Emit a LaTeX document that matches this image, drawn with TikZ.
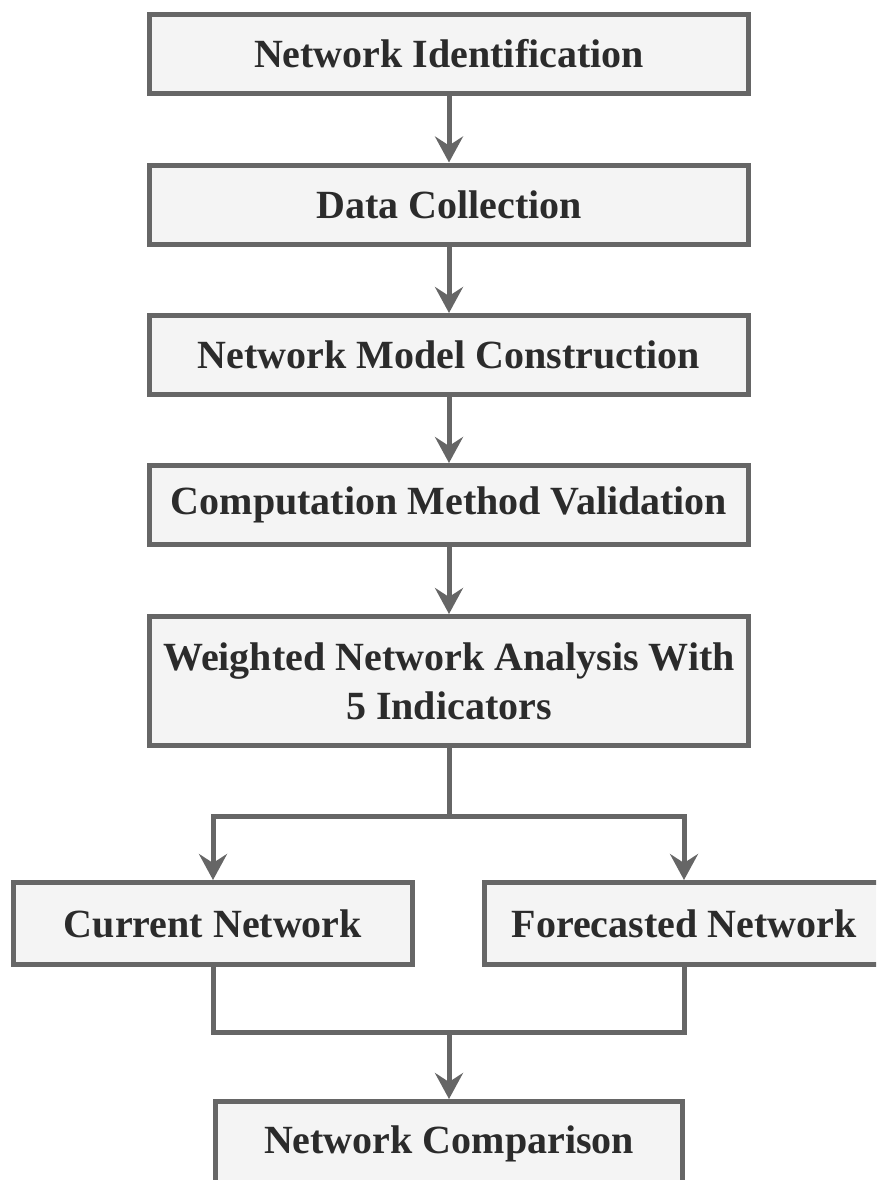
\documentclass[tikz,border=0pt]{standalone}
\usepackage{fontspec}
\setmainfont{Liberation Serif}
\usetikzlibrary{arrows.meta}
\definecolor{edgegray}{HTML}{666666}
\definecolor{boxgray}{HTML}{F4F4F4}
\definecolor{textgray}{HTML}{2B2B2B}

\begin{document}
\begin{tikzpicture}[x=1pt,y=-1pt,
  >={Stealth[length=26pt,width=28pt,inset=9pt]},
  box/.style={rectangle,draw=edgegray,fill=boxgray,line width=5pt,minimum width=599pt,minimum height=79pt,inner sep=0pt,align=center,text=textgray,font=\fontsize{40}{49}\selectfont\bfseries},
  half/.style={box,minimum width=399pt,minimum height=82pt},
  link/.style={draw=edgegray,line width=5pt},
  arc/.style={link,->}
]
\useasboundingbox (0,0) rectangle (876,1180);
\clip (0,0) rectangle (876,1180);
\node[box] (ident) at (449,54) {Network Identification};
\node[box] (data) at (449,204.5) {Data Collection};
\node[box] (model) at (449,355) {Network Model Construction};
\node[box] (valid) at (449,505) {Computation Method Validation};
\node[box,minimum height=129pt] (wna) at (449,681) {Weighted Network Analysis With\\5 Indicators};
\node[half] (cur) at (213,923.5) {Current Network};
\node[half] (fore) at (684,923.5) {Forecasted Network};
\node[box,minimum width=467pt,minimum height=85pt] (comp) at (449,1144) {Network Comparison};
\coordinate (split) at (449,816);
\coordinate (merge) at (449,1032);
\draw[arc] (ident) -- (data);
\draw[arc] (data) -- (model);
\draw[arc] (model) -- (valid);
\draw[arc] (valid) -- (wna);
\draw[link] (wna) -- (split);
\draw[arc] (split) -| (cur);
\draw[arc] (split) -| (fore);
\draw[link] (cur) |- (merge) -| (fore);
\draw[arc] (merge) -- (comp);
\end{tikzpicture}
\end{document}
